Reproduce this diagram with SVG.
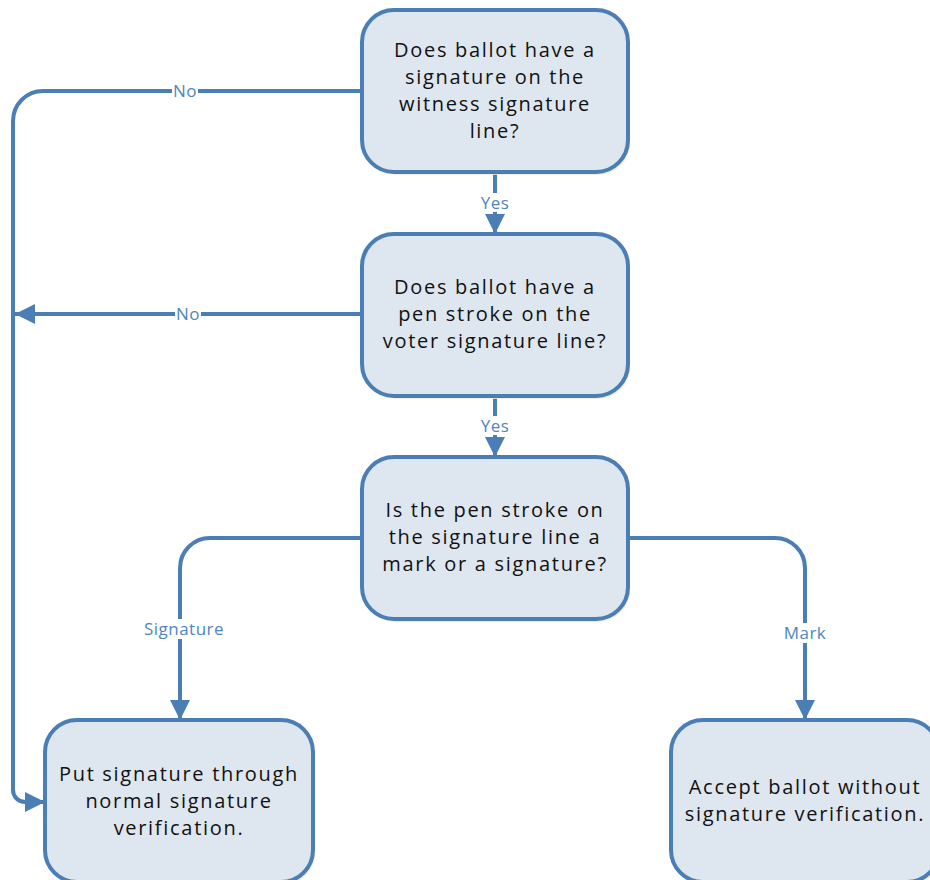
<svg xmlns="http://www.w3.org/2000/svg" width="930" height="880" viewBox="0 0 930 880">
<defs>
<style>
.box{fill:#dee6ef;stroke:#4a7eb4;stroke-width:4}
.sh{fill:#f3e9cf;opacity:0.8}
.t{font-family:"Open Sans","DejaVu Sans",sans-serif;font-size:20px;fill:#111;text-anchor:middle;letter-spacing:1.7px}
.c{fill:none;stroke:#4a7eb4;stroke-width:4}
.lb{font-family:"Open Sans","DejaVu Sans",sans-serif;font-size:17px;fill:#4f86bd;text-anchor:middle;letter-spacing:0.5px}
.bg{fill:#fff}
</style>
<marker id="ah" viewBox="0 0 10 10" refX="10" refY="5" markerWidth="5" markerHeight="5" orient="auto" markerUnits="strokeWidth">
<path d="M0,0 L10,5 L0,10 Z" fill="#4a7eb4"/>
</marker>
</defs>
<g id="connectors">
<path class="c" d="M362,91 H43 A30,30 0 0 0 13,121 V790 A12,12 0 0 0 25,802 H45" marker-end="url(#ah)"/>
<path class="c" d="M362,314 H15" marker-end="url(#ah)"/>
<path class="c" d="M495,172 V234" marker-end="url(#ah)"/>
<path class="c" d="M495,396 V457" marker-end="url(#ah)"/>
<path class="c" d="M362,538 H210 A30,30 0 0 0 180,568 V720" marker-end="url(#ah)"/>
<path class="c" d="M628,538 H775 A30,30 0 0 1 805,568 V720" marker-end="url(#ah)"/>
<rect class="bg" x="172" y="82" width="26" height="18"/>
<text class="lb" x="185" y="97">No</text>
<rect class="bg" x="175" y="305" width="26" height="18"/>
<text class="lb" x="188" y="320">No</text>
<rect class="bg" x="479" y="193" width="32" height="19"/>
<text class="lb" x="495" y="209">Yes</text>
<rect class="bg" x="479" y="416" width="32" height="19"/>
<text class="lb" x="495" y="432">Yes</text>
<rect class="bg" x="142" y="619" width="84" height="20"/>
<text class="lb" x="184" y="635">Signature</text>
<rect class="bg" x="783" y="623" width="44" height="20"/>
<text class="lb" x="805" y="639">Mark</text>
</g>
<g id="n1">
<rect class="sh" x="364" y="13" width="266" height="162" rx="32"/>
<rect class="box" x="362" y="10" width="266" height="162" rx="32"/>
<text class="t" x="495" y="57">Does ballot have a</text>
<text class="t" x="495" y="84">signature on the</text>
<text class="t" x="495" y="111">witness signature</text>
<text class="t" x="495" y="138">line?</text>
</g>
<g id="n2">
<rect class="sh" x="364" y="237" width="266" height="162" rx="32"/>
<rect class="box" x="362" y="234" width="266" height="162" rx="32"/>
<text class="t" x="495" y="294">Does ballot have a</text>
<text class="t" x="495" y="321">pen stroke on the</text>
<text class="t" x="495" y="348">voter signature line?</text>
</g>
<g id="n3">
<rect class="sh" x="364" y="460" width="266" height="162" rx="32"/>
<rect class="box" x="362" y="457" width="266" height="162" rx="32"/>
<text class="t" x="495" y="517">Is the pen stroke on</text>
<text class="t" x="495" y="544">the signature line a</text>
<text class="t" x="495" y="571">mark or a signature?</text>
</g>
<g id="n4">
<rect class="sh" x="47" y="723" width="268" height="162" rx="32"/>
<rect class="box" x="45" y="720" width="268" height="162" rx="32"/>
<text class="t" x="179" y="781">Put signature through</text>
<text class="t" x="179" y="808">normal signature</text>
<text class="t" x="179" y="835">verification.</text>
</g>
<g id="n5">
<rect class="sh" x="673" y="723" width="268" height="162" rx="32"/>
<rect class="box" x="671" y="720" width="268" height="162" rx="32"/>
<text class="t" x="805" y="794">Accept ballot without</text>
<text class="t" x="805" y="821">signature verification.</text>
</g>
</svg>
